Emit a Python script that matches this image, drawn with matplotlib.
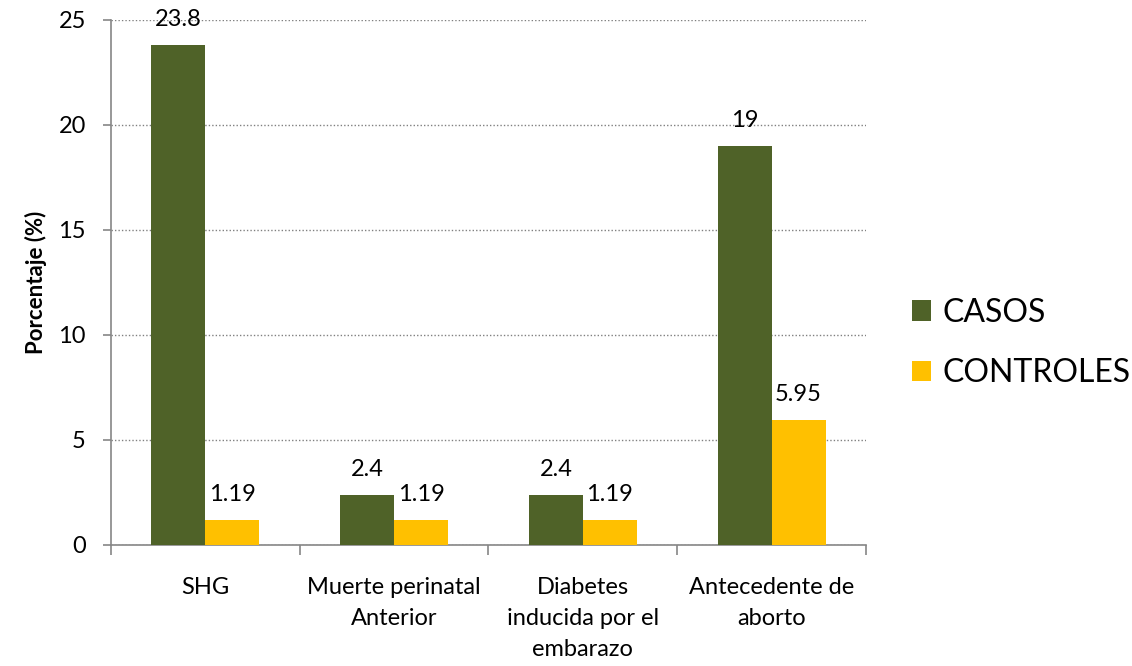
import matplotlib.pyplot as plt
import numpy as np

plt.rcParams['font.family'] = ['Lato', 'DejaVu Sans']

categorias = ["SHG", "Muerte perinatal\nAnterior", "Diabetes\ninducida por el\nembarazo", "Antecedente de\naborto"]
casos = [23.8, 2.4, 2.4, 19]
controles = [1.19, 1.19, 1.19, 5.95]
etiquetas_casos = ["23.8", "2.4", "2.4", "19"]
etiquetas_controles = ["1.19", "1.19", "1.19", "5.95"]

verde = "#4F6228"
amarillo = "#FFC000"

fig = plt.figure(figsize=(11.32, 6.66), dpi=100)
ax = fig.add_axes([0.098, 0.1817, 0.667, 0.7883])

x = np.arange(len(categorias))
w = 0.286
b1 = ax.bar(x - w / 2, casos, w, color=verde, label="CASOS", zorder=3)
b2 = ax.bar(x + w / 2, controles, w, color=amarillo, label="CONTROLES", zorder=3)

for bars, labels in ((b1, etiquetas_casos), (b2, etiquetas_controles)):
    for rect, lab in zip(bars, labels):
        ax.annotate(lab, (rect.get_x() + rect.get_width() / 2, rect.get_height()),
                    xytext=(0, 13.5), textcoords="offset points",
                    ha="center", va="baseline", fontsize=17)

ax.set_xlim(-0.5, len(categorias) - 0.5)
ax.set_ylim(0, 25)
ax.set_yticks([0, 5, 10, 15, 20, 25])
ax.yaxis.grid(True, linestyle=(0, (1, 1.5)), color="#808080", linewidth=1, zorder=0)

ax.set_xticks(x)
ax.set_xticklabels(categorias, fontsize=17, linespacing=1.6, va="top")
ax.tick_params(axis="x", which="major", length=0, pad=23)
ax.set_xticks(np.arange(len(categorias) + 1) - 0.5, minor=True)
ax.tick_params(axis="x", which="minor", length=7, color="#868686", width=1.2)
ax.tick_params(axis="y", length=6, color="#868686", width=1.2, labelsize=17, pad=12)

for s in ("top", "right"):
    ax.spines[s].set_visible(False)
for s in ("left", "bottom"):
    ax.spines[s].set_color("#868686")
    ax.spines[s].set_linewidth(1.2)

ax.set_ylabel("Porcentaje (%)", fontsize=16, fontweight="bold", labelpad=8)

ax.legend(loc="center left", bbox_to_anchor=(1.061, 0.385), frameon=False,
          fontsize=23, handlelength=0.6, handleheight=0.6, handletextpad=0.35,
          labelspacing=0.95, borderpad=0, borderaxespad=0)

fig.savefig("out.png", dpi=100)
